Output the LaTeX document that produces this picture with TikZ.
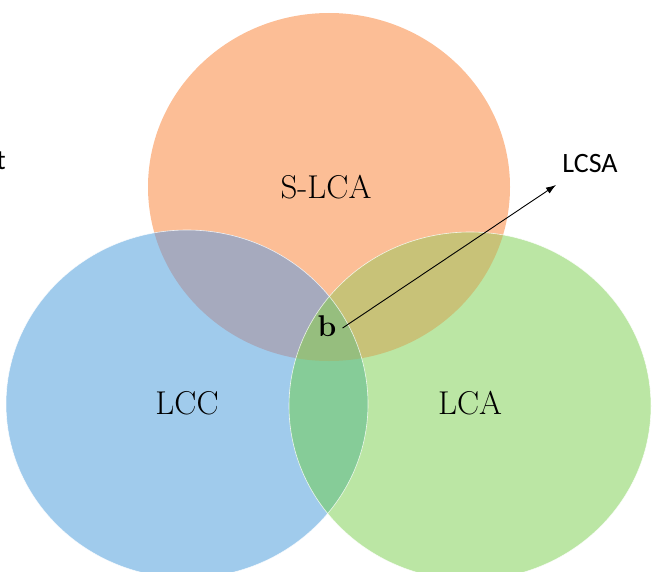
\documentclass[tikz,border=0pt]{standalone}
\usepackage{fontspec}
\newfontfamily\sansfont{Carlito}
\usetikzlibrary{arrows.meta}
\definecolor{corange}{RGB}{252,190,150}
\definecolor{cblue}{RGB}{160,203,236}
\definecolor{cgreen}{RGB}{187,230,164}
\definecolor{cgray}{RGB}{166,170,190}
\definecolor{colive}{RGB}{200,194,120}
\definecolor{ctriple}{RGB}{150,190,126}
\definecolor{cteal}{RGB}{134,204,152}
\tikzset{
  lbl/.style={font=\fontsize{33}{35}\selectfont, inner sep=0pt},
  slbl/.style={font=\sansfont\fontsize{28}{30}\selectfont, inner sep=0pt},
  rim/.style={draw=white, line width=0.6pt, draw opacity=0.8},
}
\begin{document}
\begin{tikzpicture}[x=1pt,y=-1pt]
\useasboundingbox (0,0) rectangle (655,572);
\coordinate (T) at (329,187);
\coordinate (L) at (187,404);
\coordinate (R) at (470,406);
\def\ell{ellipse [x radius=181pt, y radius=174pt]}
\fill[corange] (T) \ell;
\fill[cblue] (L) \ell;
\fill[cgreen] (R) \ell;
\begin{scope}
  \clip (T) \ell;
  \fill[cgray] (L) \ell;
  \fill[colive] (R) \ell;
\end{scope}
\begin{scope}
  \clip (L) \ell;
  \fill[cteal] (R) \ell;
\end{scope}
\begin{scope}
  \clip (T) \ell;
  \clip (L) \ell;
  \fill[ctriple] (R) \ell;
\end{scope}
\draw[rim] (L) \ell;
\draw[rim] (R) \ell;
\node[lbl] (slca) at (326,187) {S-LCA};
\node[lbl] (lcc) at (187,403) {LCC};
\node[lbl] (lca) at (470,403) {LCA};
\node[lbl, font=\bfseries\fontsize{30}{32}\selectfont] (b) at (327,326) {b};
\node[slbl] (lcsa) at (590,164) {LCSA};
\node[slbl, anchor=base east] (t) at (6,170) {t};
\coordinate (tip) at (556,185);
\draw[line width=0.9pt, -{Latex[length=10pt,width=7pt]}] (b.east) ++(6,2) coordinate (bs) (bs) -- (tip);
\end{tikzpicture}
\end{document}
